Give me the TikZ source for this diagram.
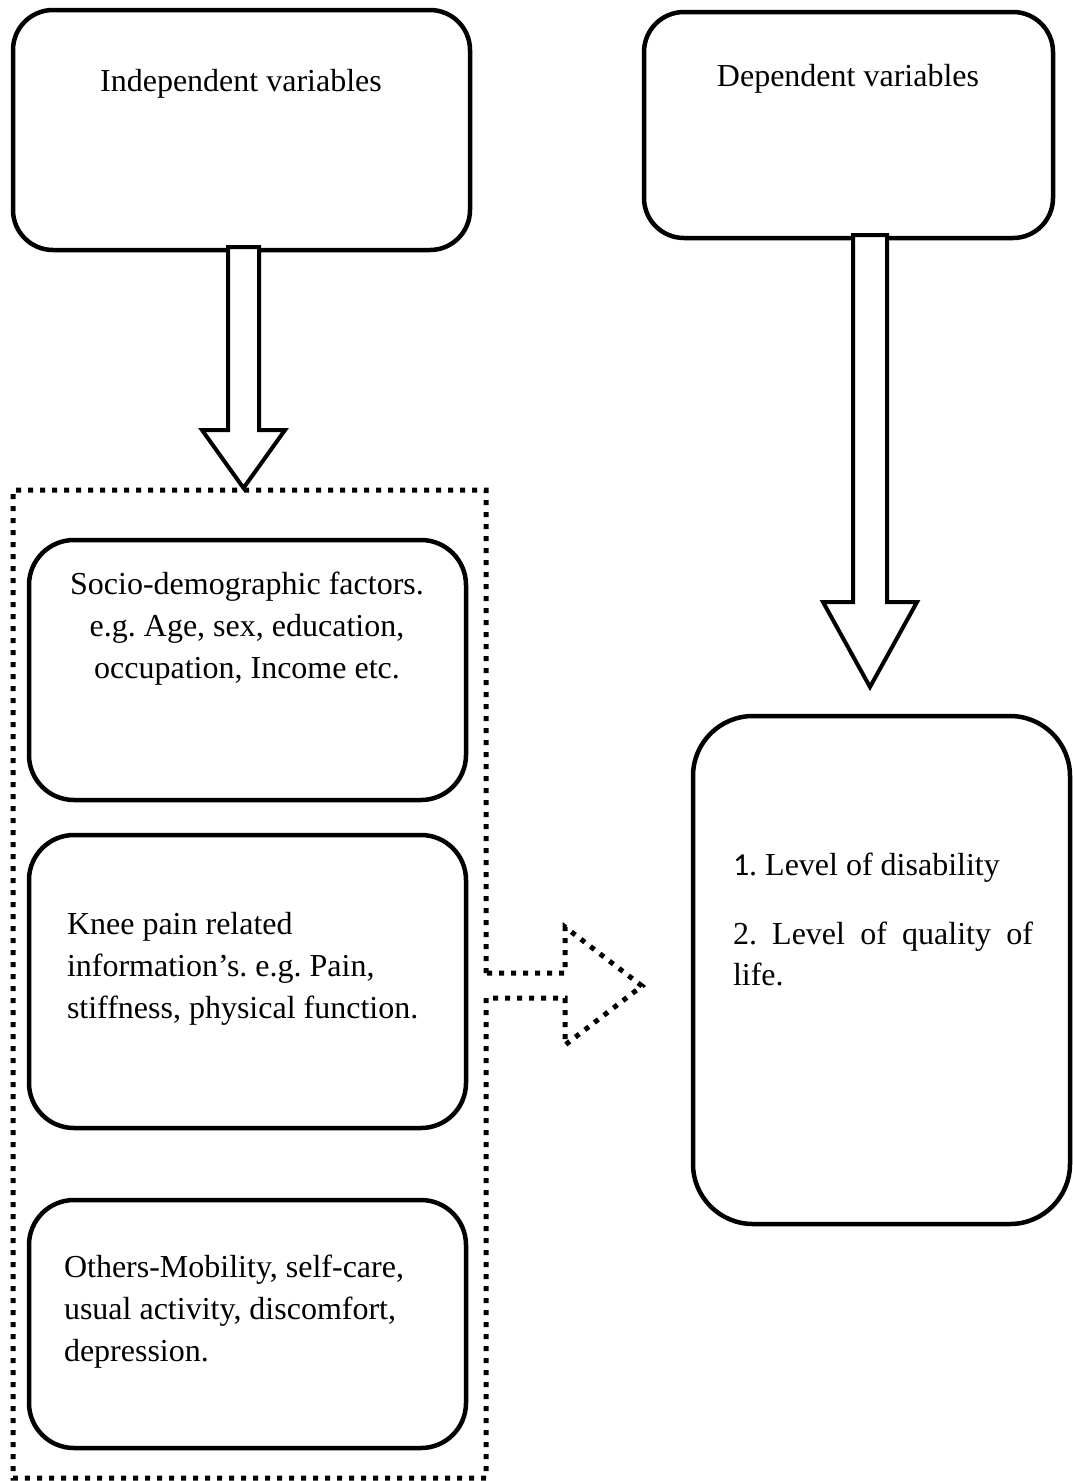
\documentclass[tikz,border=0pt]{standalone}
\usepackage{fontspec}
\setmainfont{Liberation Serif}
\newfontfamily\onefont{Carlito}
\frenchspacing
\begin{document}
\begin{tikzpicture}[x=1pt,y=-1pt,
  rbox/.style={draw, line width=4.5pt, inner sep=0pt, rounded corners=45pt},
  blockarrow/.style={draw, fill=white, line width=4pt, line join=miter},
  dotline/.style={draw, line width=5pt, line cap=butt, dash pattern=on 5pt off 7pt},
  txt/.style={font=\fontsize{32pt}{42pt}\selectfont\frenchspacing, inner sep=0pt, outer sep=0pt}]
\useasboundingbox (0,0) rectangle (1072,1481);

% boxes
\node[rbox, rounded corners=40pt, minimum width=457pt, minimum height=240pt] (iv) at (241.5,130) {};
\node[rbox, rounded corners=40pt, minimum width=409pt, minimum height=226pt] (dv) at (848.5,125) {};
\node[rbox, minimum width=437pt, minimum height=260pt] (socio) at (247.5,670) {};
\node[rbox, minimum width=437pt, minimum height=293pt] (knee) at (247.5,981.5) {};
\node[rbox, minimum width=437pt, minimum height=248pt] (others) at (247.5,1324) {};
\node[rbox, rounded corners=60pt, minimum width=377pt, minimum height=508pt] (out) at (881.5,970) {};

% dotted container with dotted arrow
\coordinate (gtop) at (486,973);
\coordinate (gbot) at (486,998);
\coordinate (dtip) at (642,986);
\draw[dotline] (gtop) -- (486,490) -- (13,490) -- (13,1478) -- (486,1478) -- (gbot)
  -- (565,998) -- (565,1045) -- (dtip) -- (565,927) -- (565,973) -- cycle;

% block arrows
\coordinate (tipA) at (243.5,488);
\coordinate (tipB) at (870,687);
\draw[blockarrow] (228,247) -- (259,247) -- (259,430) -- (285,430) -- (tipA)
  -- (202,430) -- (228,430) -- cycle;
\draw[blockarrow] (853,235) -- (887,235) -- (887,602) -- (917,602) -- (tipB)
  -- (823,602) -- (853,602) -- cycle;

% texts
\node[txt, anchor=base] (t1) at (241,91) {Independent variables};
\node[txt, anchor=base] (t2) at (848,86) {Dependent variables};

\node[txt, anchor=base] (s1) at (247,594) {Socio-demographic factors.};
\node[txt, anchor=base] (s2) at (247,636) {e.g. Age, sex, education,};
\node[txt, anchor=base] (s3) at (247,678) {occupation, Income etc.};

\node[txt, anchor=base west] (k1) at (67,934) {Knee pain related};
\node[txt, anchor=base west] (k2) at (67,976) {information’s. e.g. Pain,};
\node[txt, anchor=base west] (k3) at (67,1018) {stiffness, physical function.};

\node[txt, anchor=base west] (o1) at (64,1277) {Others-Mobility, self-care,};
\node[txt, anchor=base west] (o2) at (64,1319) {usual activity, discomfort,};
\node[txt, anchor=base west] (o3) at (64,1361) {depression.};

\node[txt, anchor=base west] (r1) at (733,875) {{\onefont 1}. Level of disability};
\node[txt, anchor=base west] (r2) at (733,944) {\hbox to 300pt{2. Level of quality of}};
\node[txt, anchor=base west] (r3) at (733,985) {life.};
\end{tikzpicture}
\end{document}
